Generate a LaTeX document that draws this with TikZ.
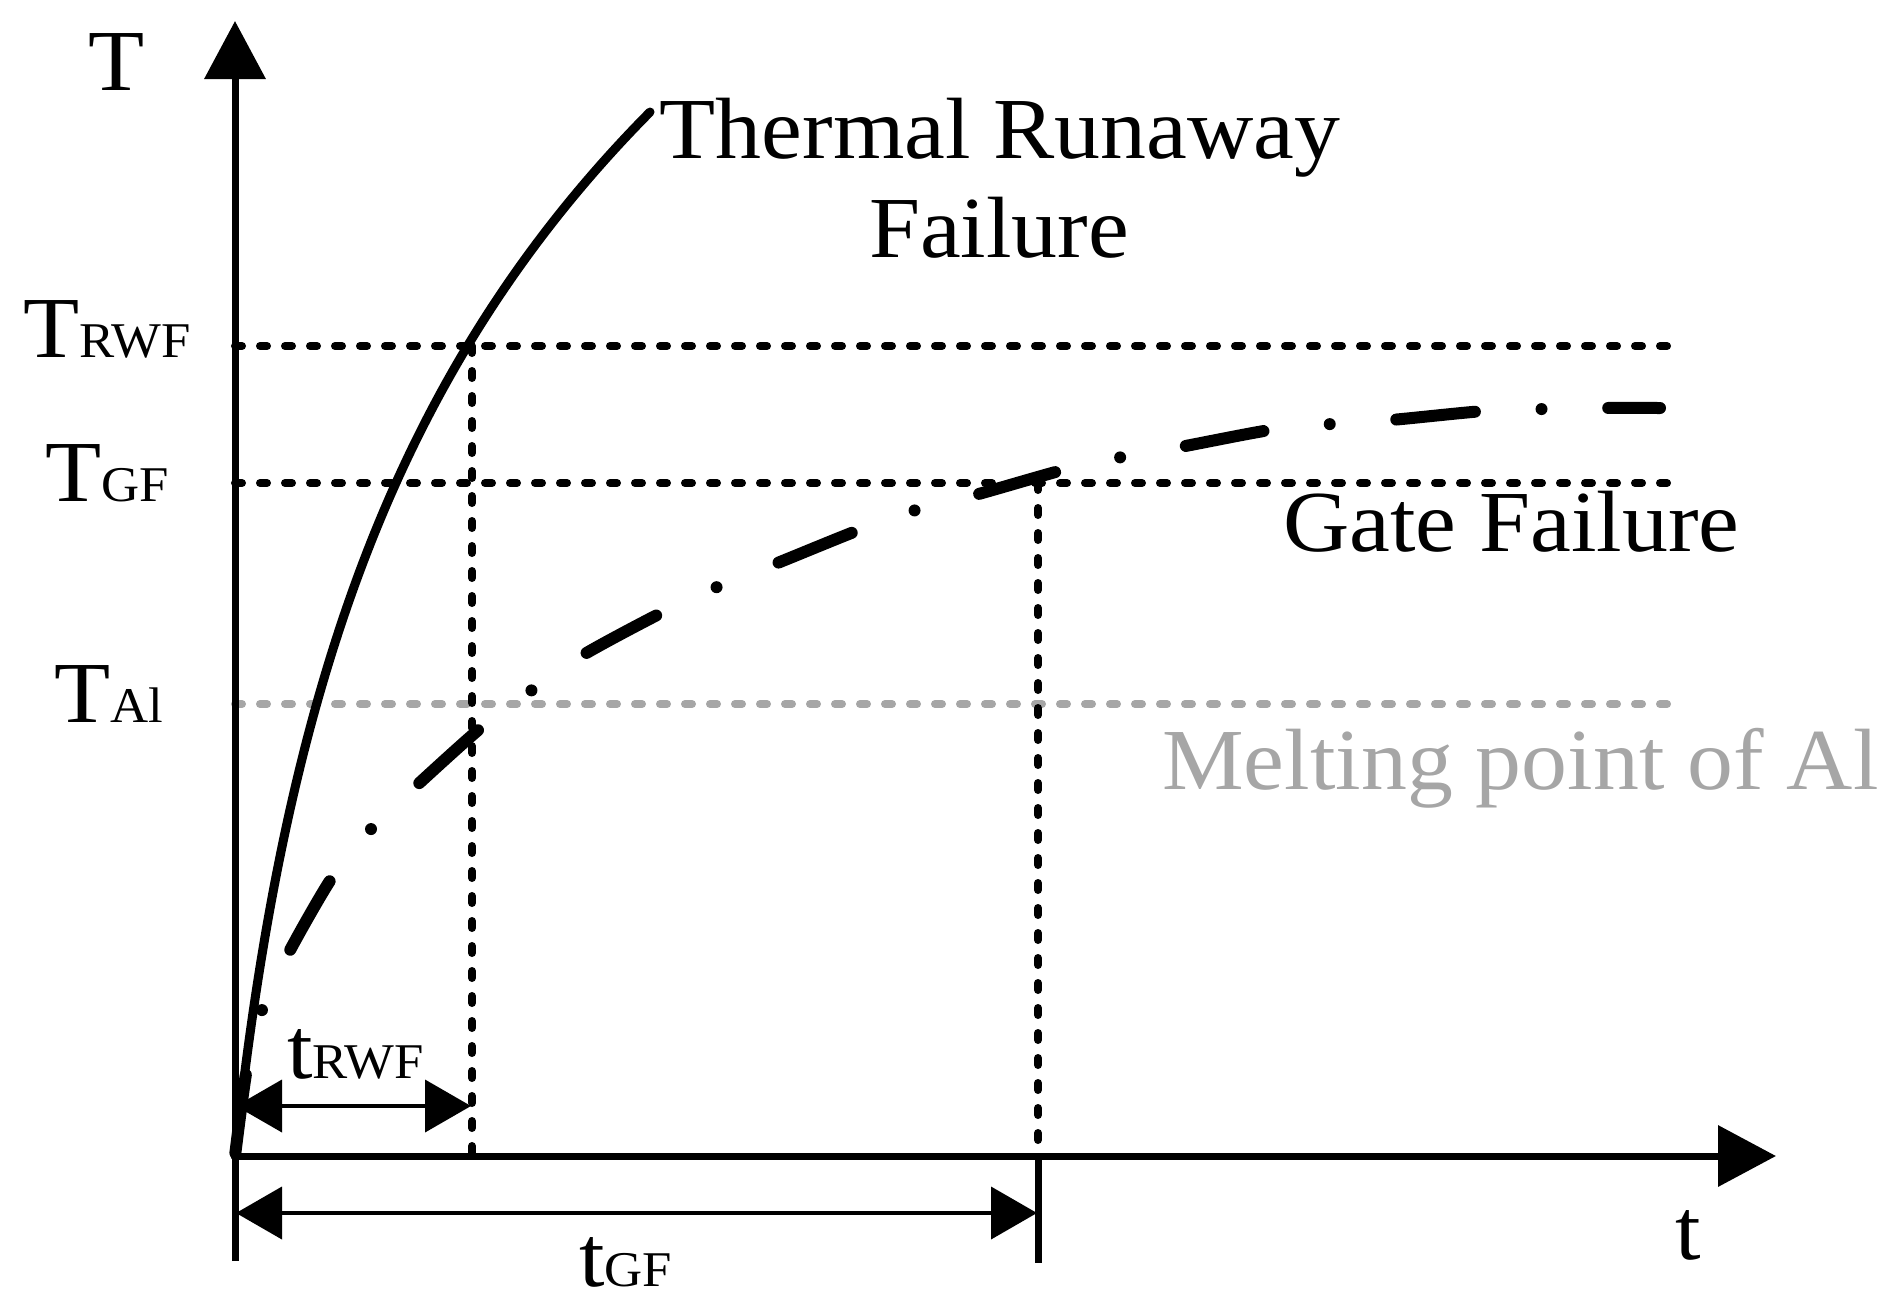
\documentclass[tikz,border=0pt]{standalone}
\usepackage{fontspec}
\setmainfont{Liberation Serif}[FakeStretch=1.055]
\usetikzlibrary{arrows.meta}
\definecolor{algray}{RGB}{166,166,166}
\tikzset{
  axisline/.style={line width=7pt},
  axisarrow/.style={axisline,-{Triangle[length=58pt,width=60pt]}},
  dotline/.style={line width=8pt,line cap=round,dash pattern=on 7pt off 18pt},
  dimline/.style={line width=4pt,{Triangle[length=46pt,width=52pt]}-{Triangle[length=46pt,width=52pt]}},
  rwcurve/.style={line width=9pt,line cap=round},
  gfcurve/.style={line width=12pt,line cap=round,dash pattern=on 79pt off 66.7pt on 0pt off 66.7pt,dash phase=-3pt},
  lbl/.style={inner sep=0pt,font=\fontsize{87}{90}\selectfont},
}
\newcommand\subsc[1]{{\fontsize{50}{52}\selectfont #1}}
\begin{document}
\begin{tikzpicture}[x=1pt,y=-1pt]
\useasboundingbox (0,0) rectangle (1890,1310);
% coordinates
\coordinate (O) at (235,1156);
\coordinate (Ytop) at (235,21);
\coordinate (Ybot) at (235,1261);
\coordinate (Xend) at (1776,1156);
\coordinate (R1) at (235,346);
\coordinate (R2) at (1671,346);
\coordinate (G1) at (235,483);
\coordinate (G2) at (1671,483);
\coordinate (A1) at (235,704);
\coordinate (A2) at (1671,704);
\coordinate (Rv) at (472,346);
\coordinate (Rb) at (472,1156);
\coordinate (Gv) at (1038,483);
\coordinate (Gb) at (1038,1156);
\coordinate (Gt) at (1038,1263);
\coordinate (D1a) at (236,1106);
\coordinate (D1b) at (471,1106);
\coordinate (D2a) at (236,1213);
\coordinate (D2b) at (1037,1213);
% dotted guide lines
\draw[dotline,draw=algray] (A1) -- (A2);
\draw[dotline] (R1) -- (R2);
\draw[dotline] (G1) -- (G2);
\draw[dotline] (Rv) -- (Rb);
\draw[dotline] (Gv) -- (Gb);
% axes
\draw[axisarrow] (Ybot) -- (Ytop);
\draw[axisarrow] (O) -- (Xend);
\draw[axisline] (Gb) -- (Gt);
% thermal runaway curve
\draw[rwcurve] plot[domain=0:1044,samples=120,smooth] ({235+50.5*(exp(\x/470)-1)},{1156-\x});
% gate failure curve
\draw[gfcurve] plot[smooth,tension=0.5] coordinates {(235,1156) (247,1068) (262,1010) (288,954) (333,876) (372,828) (415,787) (483,726) (532,690) (583,655) (663,612) (717,587) (775,564) (859,530) (916,510) (975,495) (1063,470) (1122,457) (1180,447) (1270,430) (1331,424) (1391,420) (1484,411) (1544,409) (1605,408) (1660,408)};
% dimension arrows
\draw[dimline] (D1a) -- (D1b);
\draw[dimline] (D2a) -- (D2b);
% labels
\node[lbl,anchor=base] (lT) at (117,90) {T};
\node[lbl,anchor=base west] (lTr) at (23,357) {T\subsc{RWF}};
\node[lbl,anchor=base west] (lTg) at (45,501) {T\subsc{GF}};
\node[lbl,anchor=base west] (lTa) at (54,722) {T\subsc{Al}};
\node[lbl,anchor=base] (lth1) at (1000,158) {Thermal Runaway};
\node[lbl,anchor=base] (lth2) at (999,257) {Failure};
\node[lbl,anchor=base west] (lgf) at (1283,551) {Gate Failure};
\node[lbl,anchor=base west,text=algray] (lmp) at (1162,789) {Melting point of Al};
\node[lbl,anchor=base west] (ltr) at (287,1078) {t\subsc{RWF}};
\node[lbl,anchor=base west] (ltg) at (579,1286) {t\subsc{GF}};
\node[lbl,anchor=base] (lt) at (1688,1259) {t};
\end{tikzpicture}
\end{document}
